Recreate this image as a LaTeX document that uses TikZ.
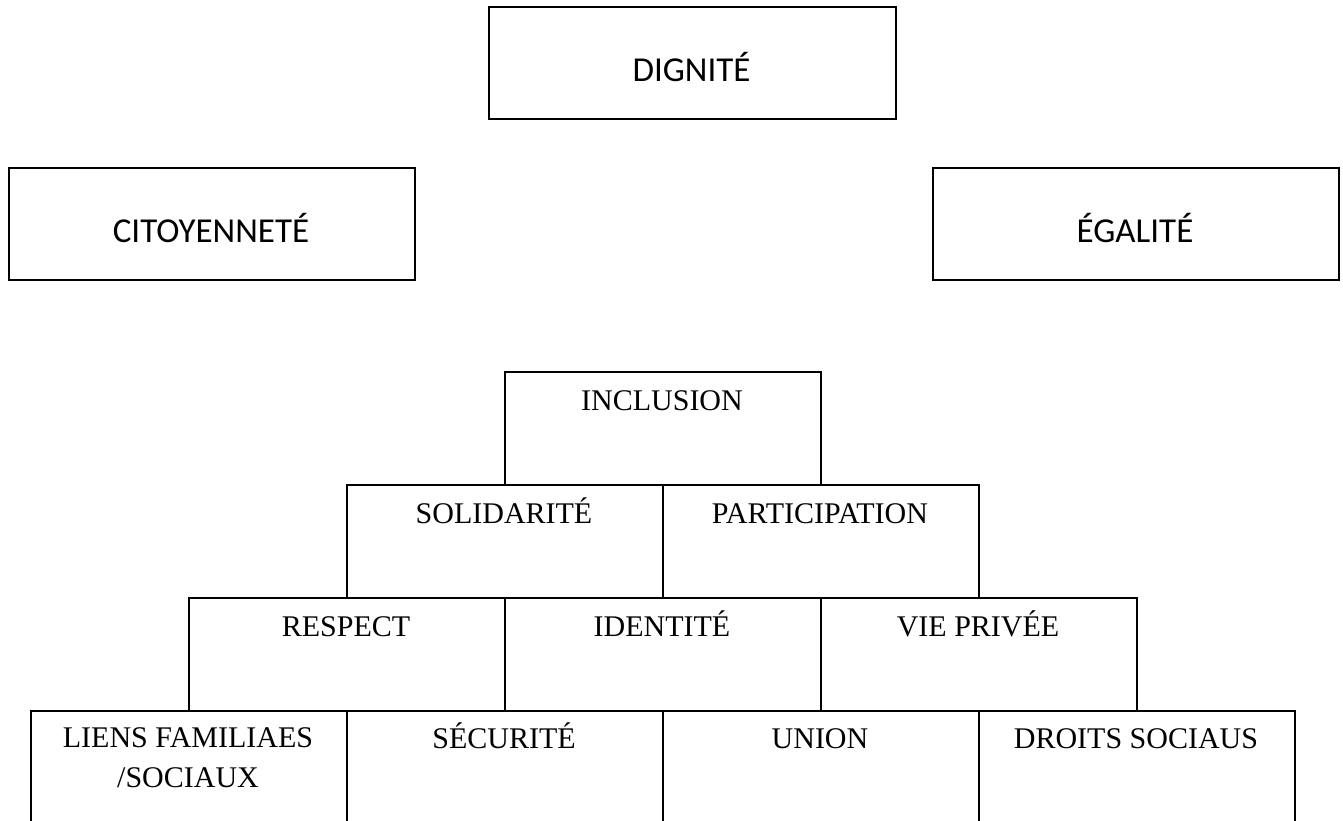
\documentclass[tikz,border=0pt]{standalone}
\usepackage{fontspec}
\setmainfont{Liberation Serif}
\newfontfamily\topfont{Carlito}
\begin{document}
\begin{tikzpicture}[x=1pt,y=-1pt,
  topbox/.style={draw=black, line width=2pt, anchor=north west, inner sep=0pt},
  toptext/.style={anchor=base, inner sep=0pt, font=\topfont\fontsize{35}{42}\selectfont},
  pbox/.style={draw=black, line width=1.6pt, anchor=north west, inner sep=0pt,
    minimum width=316pt, minimum height=113pt},
  ptext/.style={anchor=base, inner sep=0pt, align=center,
    font=\fontsize{30}{40}\selectfont}]
\useasboundingbox (0,0) rectangle (1343,820);
\begin{scope}
\clip (0,0) rectangle (1343,820);
% top boxes
\node[topbox, minimum width=407pt, minimum height=112pt] (dign) at (488,6) {};
\node[toptext] (dignT) at (691.5,81) {DIGNITÉ};
\node[topbox, minimum width=406pt, minimum height=112pt] (cito) at (8,167) {};
\node[toptext] (citoT) at (211,242) {CITOYENNETÉ};
\node[topbox, minimum width=406pt, minimum height=112pt] (egal) at (932,167) {};
\node[toptext] (egalT) at (1135,242) {ÉGALITÉ};
% pyramid row 1
\node[pbox] (incl) at (504,371) {};
\node[ptext] (inclT) at (662,410) {INCLUSION};
% row 2
\node[pbox] (soli) at (346,484) {};
\node[ptext] (soliT) at (504,523) {SOLIDARITÉ};
\node[pbox] (part) at (662,484) {};
\node[ptext] (partT) at (820,523) {PARTICIPATION};
% row 3
\node[pbox] (resp) at (188,597) {};
\node[ptext] (respT) at (346,636) {RESPECT};
\node[pbox] (iden) at (504,597) {};
\node[ptext] (idenT) at (662,636) {IDENTITÉ};
\node[pbox] (vie) at (820,597) {};
\node[ptext] (vieT) at (978,636) {VIE PRIVÉE};
% row 4
\node[pbox, minimum height=125pt] (lien) at (30,710) {};
\node[ptext, anchor=north] (lienT) at (188,727.5) {LIENS FAMILIAES\\/SOCIAUX};
\node[pbox, minimum height=125pt] (secu) at (346,710) {};
\node[ptext] (secuT) at (504,748) {SÉCURITÉ};
\node[pbox, minimum height=125pt] (unio) at (662,710) {};
\node[ptext] (unioT) at (820,748) {UNION};
\node[pbox, minimum height=125pt] (droi) at (978,710) {};
\node[ptext] (droiT) at (1136,748) {DROITS SOCIAUS};
\end{scope}
\end{tikzpicture}
\end{document}
